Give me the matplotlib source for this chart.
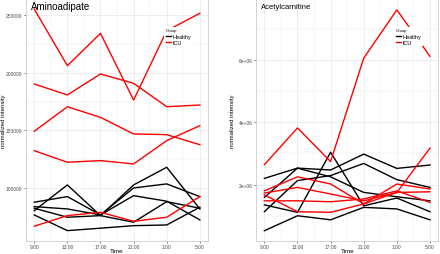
import matplotlib.pyplot as plt
from matplotlib.lines import Line2D
from matplotlib.ticker import FixedLocator

plt.rcParams['font.family'] = ['Liberation Sans', 'DejaVu Sans']

# time points
times = ['9:00', '13:00', '17:00', '21:00', '1:00', '5:00']

# Aminoadipate (normalized intensity)
amino_healthy = [
    [87700, 92600, 76700, 93400, 88600, 72400],
    [80400, 102700, 76100, 102700, 118000, 81900],
    [83900, 81900, 76700, 100100, 103600, 92600],
    [82500, 74700, 76100, 70400, 88200, 82500],
    [76700, 63100, 65200, 67400, 68000, 83400],
]
amino_icu = [
    [255200, 206100, 234100, 176300, 236400, 251500],
    [190200, 180700, 198900, 190800, 170500, 172000],
    [149200, 170500, 161300, 146900, 146300, 137600],
    [132400, 122400, 123800, 120900, 141100, 154100],
    [66900, 76100, 79000, 71200, 74700, 92600],
]

# Acetylcarnitine (normalized intensity)
acetyl_healthy = [
    [2.20e6, 2.53e6, 2.47e6, 2.98e6, 2.52e6, 2.63e6],
    [1.59e6, 2.53e6, 2.25e6, 1.75e6, 1.61e6, 1.48e6],
    [1.13e6, 2.13e6, 2.29e6, 2.68e6, 2.16e6, 1.91e6],
    [1.35e6, 1.11e6, 3.04e6, 1.32e6, 1.57e6, 1.13e6],
    [0.52e6, 1.00e6, 0.87e6, 1.27e6, 1.22e6, 0.87e6],
]
acetyl_icu = [
    [2.64e6, 3.82e6, 2.74e6, 6.06e6, 7.61e6, 6.12e6],
    [1.80e6, 2.25e6, 2.02e6, 1.38e6, 2.02e6, 1.86e6],
    [1.73e6, 1.91e6, 1.70e6, 1.48e6, 1.75e6, 1.77e6],
    [1.48e6, 1.48e6, 1.45e6, 1.54e6, 1.80e6, 1.43e6],
    [1.67e6, 1.13e6, 1.11e6, 1.38e6, 1.75e6, 3.17e6],
]

amino_ticks = [100000, 150000, 200000, 250000]
amino_labels = ['100000', '150000', '200000', '250000']
acetyl_ticks = [2e6, 4e6, 6e6]
acetyl_labels = ['2e+06', '4e+06', '6e+06']

grid_col = '#ebebeb'
text_col = '#4d4d4d'

fig = plt.figure(figsize=(4.4, 2.55), dpi=100)
ax1 = fig.add_axes([0.059, 0.051, 0.414, 0.949])
ax2 = fig.add_axes([0.582, 0.051, 0.414, 0.949])


def panel(ax, healthy, icu, yticks, ylabels, ylim, title, title_size, ylab_x):
    x = list(range(len(times)))
    for s in healthy:
        ax.plot(x, s, color='black', lw=1.0, zorder=3)
    for s in icu:
        ax.plot(x, s, color='red', lw=1.0, zorder=3)
    ax.set_xlim(-0.25, 5.25)
    ax.set_ylim(*ylim)
    ax.set_xticks(x)
    ax.set_xticklabels(times)
    ax.set_yticks(yticks)
    ax.set_yticklabels(ylabels)
    step = yticks[1] - yticks[0]
    minors = [yticks[0] - step / 2] + [t + step / 2 for t in yticks]
    ax.yaxis.set_minor_locator(FixedLocator(minors))
    ax.xaxis.set_minor_locator(FixedLocator([i + 0.5 for i in range(-1, 6)]))
    ax.grid(which='major', color=grid_col, lw=0.6, zorder=0)
    ax.grid(which='minor', color=grid_col, lw=0.35, zorder=0)
    ax.tick_params(which='major', labelsize=3.5, colors=text_col, length=1.5, width=0.5, pad=1)
    ax.tick_params(which='minor', length=0)
    for sp in ax.spines.values():
        sp.set_color('#cccccc')
        sp.set_linewidth(0.6)
    ax.set_xlabel('Time', fontsize=4.5)
    ax.xaxis.set_label_coords(0.5, -0.03)
    ax.set_ylabel('normalized intensity', fontsize=4.3)
    ax.yaxis.set_label_coords(ylab_x, 0.5)
    ax.text(0.025, 0.97, title, transform=ax.transAxes, fontsize=title_size,
            va='center', ha='left', zorder=5)
    handles = [Line2D([], [], color='black', lw=1.0),
               Line2D([], [], color='red', lw=1.0)]
    leg = ax.legend(handles, ['Healthy', 'ICU'], title='Group', loc='upper left',
                    bbox_to_anchor=(0.76, 0.885), fontsize=4, title_fontsize=3,
                    frameon=True, facecolor='white', edgecolor='none', framealpha=1,
                    handlelength=0.8, handletextpad=0.3, labelspacing=0.2,
                    borderpad=0.3, borderaxespad=0)
    leg._legend_box.align = 'left'
    leg.set_zorder(6)


panel(ax1, amino_healthy, amino_icu, amino_ticks, amino_labels,
      (54100, 263900), 'Aminoadipate', 7, -0.11)
panel(ax2, acetyl_healthy, acetyl_icu, acetyl_ticks, acetyl_labels,
      (0.19e6, 7.96e6), 'Acetylcarnitine', 5.5, -0.115)

fig.savefig('out.png', dpi=100)
